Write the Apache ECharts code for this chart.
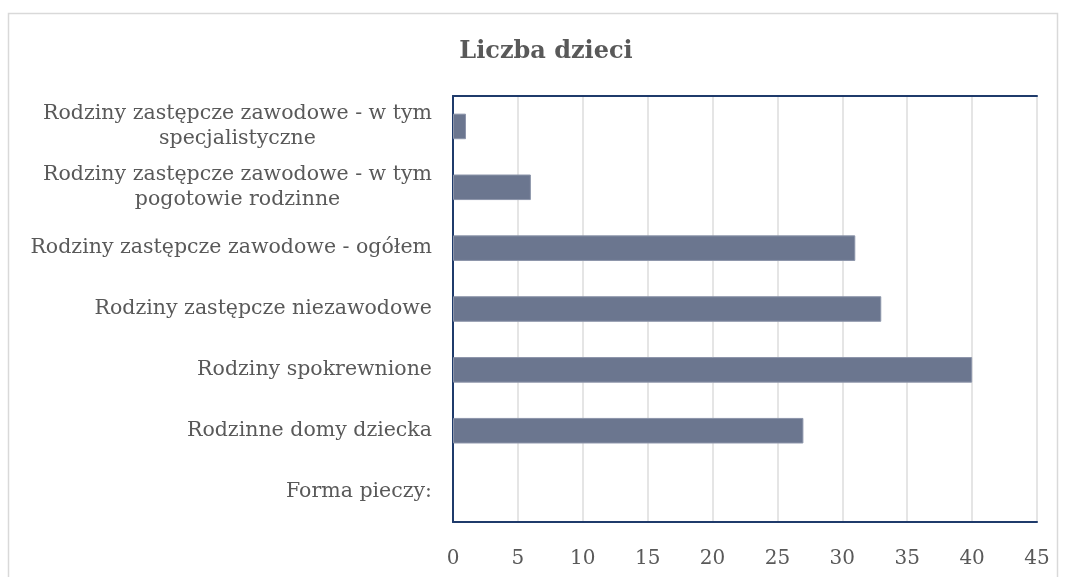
<!DOCTYPE html>
<html><head><meta charset="utf-8">
<script src="https://cdn.jsdelivr.net/npm/echarts@6/dist/echarts.min.js"></script>
<style>html,body{margin:0;padding:0;background:#fff}#c{width:1067px;height:577px}</style>
</head><body><div id="c"></div>
<script>
const titleText = 'Liczba dzieci';
const categories = [
  'Forma pieczy:',
  'Rodzinne domy dziecka',
  'Rodziny spokrewnione',
  'Rodziny zastępcze niezawodowe',
  'Rodziny zastępcze zawodowe - ogółem',
  'Rodziny zastępcze zawodowe - w tym\npogotowie rodzinne',
  'Rodziny zastępcze zawodowe - w tym\nspecjalistyczne'
];
const values = [null, 27, 40, 33, 31, 6, 1];
const xTicks = [0, 5, 10, 15, 20, 25, 30, 35, 40, 45];

const FONT = '"DejaVu Serif", "Liberation Serif", serif';
const LBL_SIZE = 20.5;
const cv = document.createElement('canvas').getContext('2d');
cv.font = LBL_SIZE + 'px ' + FONT;
function maxLineW(s){return Math.max(...s.split('\n').map(l=>cv.measureText(l).width));}

const chart = echarts.init(document.getElementById('c'));
const rich = {};
categories.forEach((c,i)=>{ if(c.indexOf('\n')>=0){ rich['m'+i] = {width: Math.ceil(maxLineW(c)), align:'center', fontFamily:FONT, fontSize:LBL_SIZE, color:'#595959', lineHeight:25}; }});

chart.setOption({
  animation:false,
  graphic:[{type:'rect', shape:{x:8.5,y:13.5,width:1049,height:600}, style:{fill:'none', stroke:'#d9d9d9', lineWidth:1.5}, silent:true}],
  title:{text:titleText, left:541, top:35, textAlign:'center', textStyle:{fontFamily:FONT, fontSize:24, fontWeight:'bold', color:'#595959'}},
  grid:{left:453, right:30, top:96, bottom:55, containLabel:false},
  xAxis:[{type:'value', min:xTicks[0], max:xTicks[xTicks.length-1], interval:5, position:'bottom',
    axisLine:{show:true, lineStyle:{color:'#1f3b6b', width:2}}, axisTick:{show:false},
    axisLabel:{fontFamily:FONT, fontSize:20, color:'#595959', margin:27},
    splitLine:{show:true, lineStyle:{color:'#dcdcdc', width:1.5}}},
    {type:'value', min:xTicks[0], max:xTicks[xTicks.length-1], interval:5, position:'top',
    axisLine:{show:true, lineStyle:{color:'#1f3b6b', width:2}}, axisTick:{show:false}, axisLabel:{show:false}, splitLine:{show:false}}],
  yAxis:[{type:'category', data:categories, position:'left',
    axisLine:{show:true, lineStyle:{color:'#a0a8bb', width:1.5}}, axisTick:{show:false},
    axisLabel:{fontFamily:FONT, fontSize:LBL_SIZE, color:'#595959', margin:21, lineHeight:25, interval:0,
      formatter:function(v,i){ return v.indexOf('\n')>=0 ? '{m'+i+'|'+v+'}' : v; }, rich:rich}},
    {type:'category', data:categories, position:'right',
    axisLine:{show:true, lineStyle:{color:'#1f3b6b', width:2}}, axisTick:{show:false}, axisLabel:{show:false}}],
  series:[{type:'bar', data:values, barCategoryGap:'58%', xAxisIndex:0, yAxisIndex:0,
    itemStyle:{color:'#6b768f', borderColor:'#8c95aa', borderWidth:1}}]
});
</script></body></html>
